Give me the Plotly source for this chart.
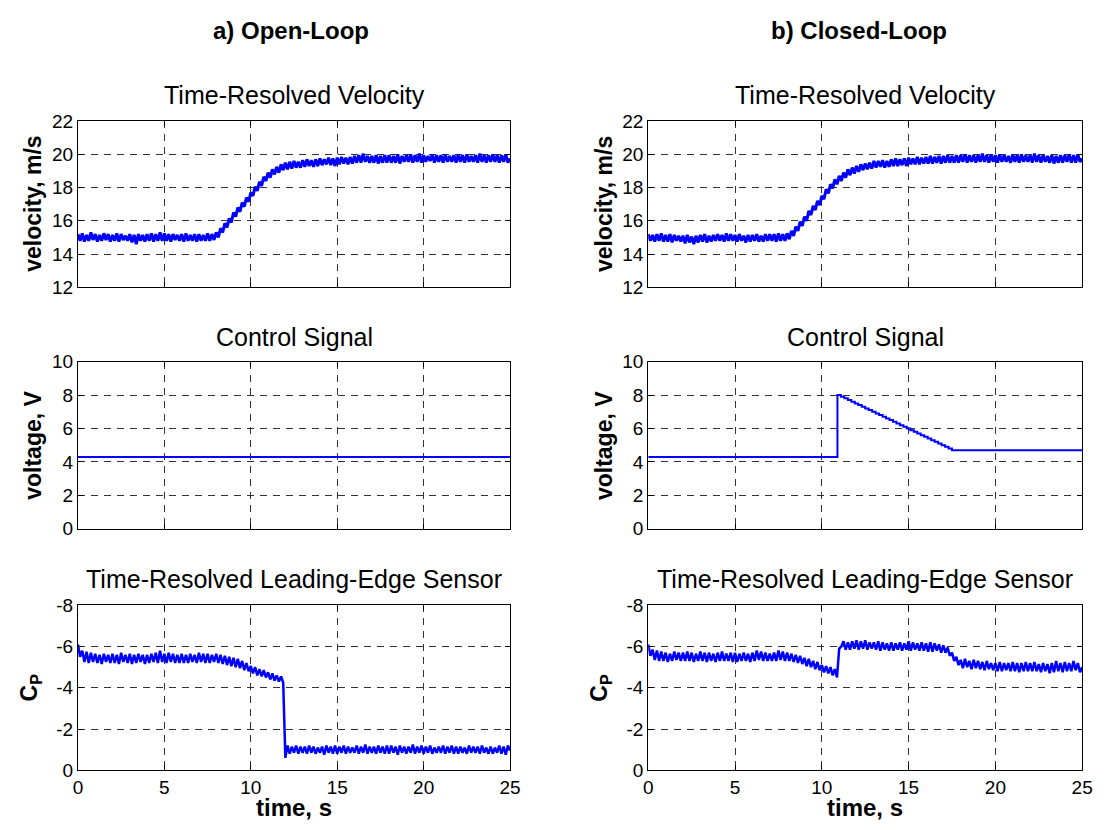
import plotly.graph_objects as go

# ---------------- data ----------------
time = [i * 0.125 for i in range(201)]  # sample grid, 0..25 s

vel_open = [
    15.2, 14.8, 15.25, 14.75, 15.15, 14.8, 15.3, 14.85,
    15.2, 14.75, 15.15, 14.8, 15.25, 14.85, 15.2, 14.75,
    15.15, 14.8, 15.25, 14.75, 15.2, 14.85, 15.1, 14.8,
    15.2, 14.7, 15.15, 14.6, 15.2, 14.8, 15.15, 14.75,
    15.2, 14.8, 15.25, 14.75, 15.2, 14.8, 15.3, 14.8,
    15.25, 14.8, 15.2, 14.75, 15.2, 14.85, 15.15, 14.8,
    15.2, 14.75, 15.25, 14.8, 15.15, 14.8, 15.2, 14.75,
    15.2, 14.8, 15.15, 14.8, 15.25, 14.8, 15.2, 14.85,
    15.3, 15.0, 15.55, 15.3, 15.85, 15.6, 16.15, 15.9,
    16.5, 16.25, 16.8, 16.55, 17.1, 16.85, 17.4, 17.15,
    17.7, 17.5, 18.05, 17.8, 18.35, 18.1, 18.65, 18.4,
    18.9, 18.6, 19.1, 18.8, 19.25, 18.9, 19.4, 19.05,
    19.5, 19.1, 19.55, 19.15, 19.6, 19.2, 19.55, 19.2,
    19.65, 19.25, 19.7, 19.3, 19.65, 19.25, 19.7, 19.3,
    19.75, 19.35, 19.7, 19.4, 19.8, 19.35, 19.75, 19.3,
    19.8, 19.4, 19.85, 19.45, 19.8, 19.4, 19.85, 19.45,
    19.9, 19.5, 19.95, 19.5, 20.05, 19.55, 19.9, 19.5,
    19.9, 19.5, 19.95, 19.45, 19.9, 19.5, 19.95, 19.5,
    19.95, 19.5, 19.9, 19.5, 20.0, 19.45, 19.9, 19.55,
    19.95, 19.55, 20.0, 19.5, 19.95, 19.55, 20.05, 19.5,
    19.95, 19.55, 19.9, 19.6, 20.0, 19.5, 19.95, 19.55,
    19.95, 19.5, 20.0, 19.55, 19.9, 19.55, 19.95, 19.5,
    20.0, 19.55, 19.95, 19.5, 20.0, 19.55, 19.9, 19.55,
    19.95, 19.5, 20.05, 19.55, 19.95, 19.5, 19.95, 19.55,
    20.0, 19.55, 19.95, 19.5, 19.95, 19.55, 20.0, 19.5,
    19.75,
]

vel_closed = [
    15.2, 14.8, 15.15, 14.75, 15.2, 14.8, 15.25, 14.75,
    15.15, 14.75, 15.2, 14.7, 15.15, 14.8, 15.1, 14.75,
    15.1, 14.65, 15.15, 14.7, 15.05, 14.6, 15.1, 14.7,
    15.15, 14.75, 15.2, 14.7, 15.1, 14.75, 15.15, 14.8,
    15.2, 14.8, 15.15, 14.75, 15.25, 14.8, 15.2, 14.8,
    15.15, 14.75, 15.2, 14.8, 15.1, 14.7, 15.15, 14.75,
    15.15, 14.8, 15.2, 14.75, 15.1, 14.75, 15.2, 14.8,
    15.2, 14.8, 15.2, 14.75, 15.25, 14.8, 15.2, 14.8,
    15.25, 14.9, 15.4, 15.1, 15.65, 15.4, 15.95, 15.7,
    16.25, 16.0, 16.6, 16.35, 16.9, 16.65, 17.2, 16.95,
    17.5, 17.3, 17.9, 17.65, 18.2, 17.95, 18.5, 18.2,
    18.7, 18.4, 18.9, 18.6, 19.1, 18.75, 19.2, 18.85,
    19.3, 18.95, 19.4, 19.05, 19.45, 19.1, 19.5, 19.15,
    19.6, 19.2, 19.6, 19.25, 19.65, 19.2, 19.6, 19.25,
    19.7, 19.3, 19.75, 19.3, 19.7, 19.35, 19.75, 19.3,
    19.8, 19.4, 19.75, 19.4, 19.85, 19.4, 19.8, 19.45,
    19.85, 19.45, 19.9, 19.45, 19.85, 19.5, 19.9, 19.45,
    19.9, 19.5, 19.95, 19.5, 19.9, 19.5, 19.95, 19.5,
    19.95, 19.55, 20.0, 19.5, 19.95, 19.55, 19.95, 19.5,
    19.95, 19.55, 20.05, 19.55, 19.95, 19.5, 20.0, 19.55,
    19.95, 19.5, 20.0, 19.55, 19.95, 19.55, 19.9, 19.5,
    20.0, 19.55, 19.95, 19.5, 20.0, 19.55, 19.95, 19.55,
    19.95, 19.5, 20.05, 19.55, 19.95, 19.5, 19.95, 19.55,
    19.9, 19.5, 19.95, 19.45, 19.9, 19.5, 19.95, 19.5,
    19.95, 19.55, 20.0, 19.5, 19.95, 19.5, 20.0, 19.55,
    19.75,
]

cp_open = [
    -6.1, -5.5, -5.8, -5.25, -5.75, -5.2, -5.7, -5.25,
    -5.65, -5.2, -5.6, -5.15, -5.65, -5.25, -5.6, -5.2,
    -5.65, -5.2, -5.6, -5.15, -5.7, -5.25, -5.6, -5.2,
    -5.65, -5.15, -5.6, -5.2, -5.65, -5.25, -5.6, -5.15,
    -5.6, -5.2, -5.65, -5.25, -5.7, -5.2, -5.8, -5.25,
    -5.65, -5.2, -5.7, -5.25, -5.65, -5.2, -5.6, -5.2,
    -5.65, -5.2, -5.6, -5.2, -5.65, -5.25, -5.6, -5.2,
    -5.7, -5.25, -5.65, -5.2, -5.65, -5.2, -5.6, -5.25,
    -5.65, -5.2, -5.6, -5.15, -5.55, -5.1, -5.5, -5.05,
    -5.45, -5.0, -5.4, -4.95, -5.3, -4.85, -5.2, -4.8,
    -5.05, -4.7, -5.0, -4.6, -4.9, -4.55, -4.85, -4.5,
    -4.75, -4.4, -4.7, -4.35, -4.6, -4.3, -4.55, -4.25,
    -0.6, -1.2, -0.8, -1.15, -0.85, -1.2, -0.8, -1.15,
    -0.85, -1.15, -0.8, -1.2, -0.85, -1.15, -0.8, -1.1,
    -0.85, -1.15, -0.75, -1.2, -0.85, -1.15, -0.8, -1.2,
    -0.8, -1.15, -0.85, -1.2, -0.8, -1.15, -0.85, -1.1,
    -0.85, -1.2, -0.8, -1.15, -0.85, -1.25, -0.8, -1.15,
    -0.85, -1.15, -0.8, -1.2, -0.85, -1.15, -0.8, -1.2,
    -0.8, -1.2, -0.85, -1.15, -0.75, -1.2, -0.85, -1.15,
    -0.8, -1.15, -0.85, -1.25, -0.8, -1.15, -0.85, -1.2,
    -0.8, -1.15, -0.85, -1.2, -0.8, -1.1, -0.85, -1.15,
    -0.85, -1.2, -0.8, -1.15, -0.85, -1.2, -0.8, -1.15,
    -0.8, -1.15, -0.85, -1.1, -0.8, -1.2, -0.85, -1.15,
    -0.85, -1.15, -0.8, -1.2, -0.85, -1.1, -0.8, -1.15,
    -0.8, -1.1, -0.85, -1.2, -0.8, -1.15, -0.75, -1.2,
    -0.95,
]

cp_closed = [
    -6.1, -5.55, -5.85, -5.35, -5.8, -5.3, -5.75, -5.3,
    -5.7, -5.25, -5.65, -5.3, -5.75, -5.35, -5.7, -5.3,
    -5.7, -5.3, -5.75, -5.3, -5.7, -5.25, -5.65, -5.3,
    -5.75, -5.3, -5.7, -5.25, -5.7, -5.3, -5.65, -5.25,
    -5.7, -5.3, -5.75, -5.3, -5.65, -5.3, -5.7, -5.25,
    -5.7, -5.25, -5.65, -5.3, -5.7, -5.3, -5.65, -5.25,
    -5.7, -5.3, -5.8, -5.35, -5.75, -5.3, -5.7, -5.3,
    -5.65, -5.3, -5.7, -5.3, -5.8, -5.35, -5.75, -5.3,
    -5.7, -5.3, -5.65, -5.25, -5.6, -5.2, -5.55, -5.15,
    -5.45, -5.05, -5.4, -5.0, -5.3, -4.9, -5.25, -4.85,
    -5.1, -4.75, -5.05, -4.7, -5.0, -4.6, -4.9, -4.5,
    -5.9, -6.0, -6.25, -5.85, -6.2, -5.85, -6.25, -5.9,
    -6.3, -5.85, -6.25, -5.9, -6.3, -5.85, -6.2, -5.9,
    -6.2, -5.85, -6.25, -5.8, -6.2, -5.85, -6.15, -5.8,
    -6.2, -5.8, -6.15, -5.85, -6.2, -5.8, -6.15, -5.85,
    -6.25, -5.8, -6.2, -5.85, -6.15, -5.8, -6.2, -5.8,
    -6.15, -5.75, -6.2, -5.75, -6.15, -5.8, -6.1, -5.7,
    -6.05, -5.7, -5.95, -5.55, -5.7, -5.3, -5.5, -5.1,
    -5.35, -4.95, -5.4, -5.0, -5.3, -4.9, -5.35, -4.95,
    -5.3, -4.9, -5.25, -4.85, -5.3, -4.9, -5.2, -4.85,
    -5.2, -4.8, -5.25, -4.8, -5.2, -4.85, -5.2, -4.8,
    -5.25, -4.8, -5.2, -4.75, -5.2, -4.8, -5.25, -4.8,
    -5.2, -4.8, -5.25, -4.8, -5.15, -4.75, -5.2, -4.8,
    -5.15, -4.7, -5.2, -4.75, -5.3, -4.8, -5.2, -4.75,
    -5.25, -4.8, -5.2, -4.8, -5.3, -4.85, -5.2, -4.75,
    -5.0,
]

ctrl_open_t = [0, 25]
ctrl_open_v = [4.3, 4.3]

ctrl_closed_t = [0, 10.9, 11.1, 11.3, 11.5, 11.7, 11.9, 12.1, 12.3, 12.5, 12.7,
                 12.9, 13.1, 13.3, 13.5, 13.7, 13.9, 14.1, 14.3, 14.5, 14.7,
                 14.9, 15.1, 15.3, 15.5, 15.7, 15.9, 16.1, 16.3, 16.5, 16.7,
                 16.9, 17.1, 17.3, 17.5, 25]
ctrl_closed_v = [4.3, 8.0, 7.9, 7.8, 7.7, 7.6, 7.5, 7.4, 7.3, 7.2, 7.1,
                 7.0, 6.9, 6.8, 6.7, 6.6, 6.5, 6.4, 6.3, 6.2, 6.1,
                 6.0, 5.9, 5.8, 5.7, 5.6, 5.5, 5.4, 5.3, 5.2, 5.1,
                 5.0, 4.9, 4.8, 4.7, 4.7]

x_ticks = [0, 5, 10, 15, 20, 25]
vel_ticks = [12, 14, 16, 18, 20, 22]
ctrl_ticks = [0, 2, 4, 6, 8, 10]
cp_ticks = [0, -2, -4, -6, -8]
cp_tick_text = ["0", "-2", "-4", "-6", "-8"]

col_titles = ["a) Open-Loop", "b) Closed-Loop"]
panel_titles = ["Time-Resolved Velocity", "Control Signal", "Time-Resolved Leading-Edge Sensor"]
y_labels = ["velocity, m/s", "voltage, V", "C<sub>P</sub>"]
x_label = "time, s"

# ---------------- layout geometry ----------------
W, H = 1105, 830
FONT = "Liberation Sans, Arial, sans-serif"
BLUE = "#0000FF"

xdoms = [[74 / W, 512.5 / W], [652.7 / W, 1093 / W]]
ydoms = [[1 - 284.5 / H, 1 - 114 / H],
         [1 - 532.3 / H, 1 - 360.7 / H],
         [1 - 780 / H, 1 - 610.7 / H]]

fig = go.Figure()

def ax_name(i):
    return "" if i == 1 else str(i)

traces = [
    (time, vel_open, 3, "linear"), (time, vel_closed, 3, "linear"),
    (ctrl_open_t, ctrl_open_v, 2, "hv"), (ctrl_closed_t, ctrl_closed_v, 2, "hv"),
    (time, cp_open, 2.5, "linear"), (time, cp_closed, 2.5, "linear"),
]

common = dict(
    showline=True, linecolor="black", linewidth=1, mirror="ticks",
    ticks="inside", ticklen=5, tickcolor="black", tickwidth=1,
    showgrid=True, gridcolor="#333333", gridwidth=1, griddash="7px,6px",
    zeroline=False, tickfont=dict(family=FONT, size=19, color="black"),
)

layout_axes = {}
for idx, (xs, ys, lw, shape) in enumerate(traces):
    i = idx + 1
    row, col = idx // 2, idx % 2
    fig.add_trace(go.Scatter(
        x=xs, y=ys, mode="lines", line=dict(color=BLUE, width=lw, shape=shape),
        xaxis="x" + ax_name(i), yaxis="y" + ax_name(i), showlegend=False,
        hoverinfo="skip",
    ))
    xa = dict(common, domain=xdoms[col], range=[0, 25], tickvals=x_ticks,
              anchor="y" + ax_name(i), showticklabels=(row == 2))
    if row == 0:
        ya = dict(common, range=[12, 22], tickvals=vel_ticks)
    elif row == 1:
        ya = dict(common, range=[0, 10], tickvals=ctrl_ticks)
    else:
        ya = dict(common, range=[0, -8], tickvals=cp_ticks, ticktext=cp_tick_text)
    ya.update(domain=ydoms[row], anchor="x" + ax_name(i))
    layout_axes["xaxis" + ax_name(i)] = xa
    layout_axes["yaxis" + ax_name(i)] = ya

annotations = []
for cx, txt in zip([290, 867], col_titles):
    annotations.append(dict(text="<b>%s</b>" % txt, x=cx / W, y=1 - 21 / H,
                            xref="paper", yref="paper", showarrow=False,
                            xanchor="center", yanchor="middle",
                            font=dict(family=FONT, size=24, color="black")))
title_y = [87, 336, 584]
for col in range(2):
    cx = (xdoms[col][0] + xdoms[col][1]) / 2
    for row in range(3):
        annotations.append(dict(text=panel_titles[row], x=cx, y=1 - title_y[row] / H,
                                xref="paper", yref="paper", showarrow=False,
                                xanchor="center", yanchor="middle",
                                font=dict(family=FONT, size=25, color="black")))
        ly = (ydoms[row][0] + ydoms[row][1]) / 2
        off = 48 if row == 2 else 45
        annotations.append(dict(text="<b>%s</b>" % y_labels[row],
                                x=xdoms[col][0] - off / W, y=ly,
                                xref="paper", yref="paper", showarrow=False,
                                textangle=-90, xanchor="center", yanchor="middle",
                                font=dict(family=FONT, size=23, color="black")))
    annotations.append(dict(text="<b>%s</b>" % x_label, x=cx, y=1 - 818 / H,
                            xref="paper", yref="paper", showarrow=False,
                            xanchor="center", yanchor="middle",
                            font=dict(family=FONT, size=24, color="black")))

fig.update_layout(
    width=W, height=H, margin=dict(l=0, r=0, t=0, b=0),
    paper_bgcolor="white", plot_bgcolor="white",
    annotations=annotations, **layout_axes,
)

fig.write_html("out.html", config={"displayModeBar": False},
               post_script="document.body.style.margin='0';")
